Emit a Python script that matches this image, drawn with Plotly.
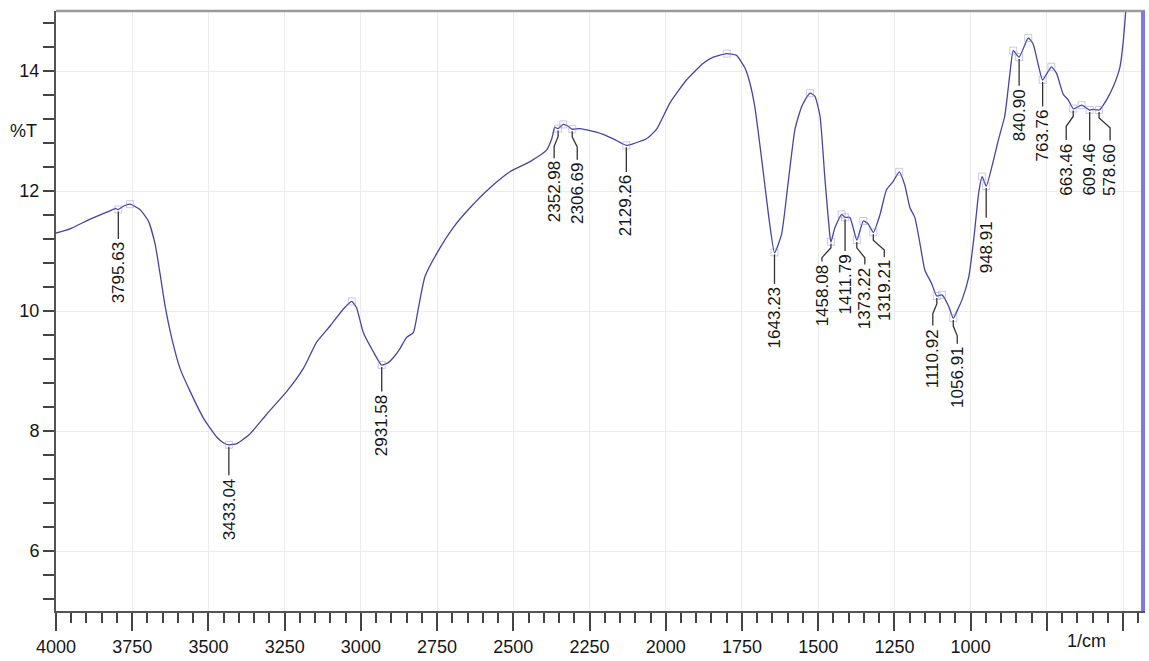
import numpy as np
import plotly.graph_objects as go

# FTIR spectrum: wavenumber (1/cm) vs transmittance (%T)
wavenumber = [
    4000, 3954, 3888, 3823, 3805, 3796, 3778, 3757, 3725, 3697, 3675, 3659, 3642,
    3620, 3593, 3560, 3517, 3473, 3450, 3433, 3407, 3364, 3309, 3243, 3189, 3145,
    3101, 3058, 3030, 3014, 2992, 2959, 2932, 2910, 2894, 2872, 2850, 2828, 2812,
    2790, 2751, 2697, 2642, 2577, 2511, 2445, 2391, 2374, 2364, 2353, 2336, 2320,
    2307, 2281, 2227, 2172, 2129, 2100, 2063, 2030, 1986, 1932, 1877, 1844, 1800,
    1768, 1740, 1724, 1708, 1691, 1675, 1659, 1643, 1620, 1598, 1576, 1554, 1527,
    1511, 1494, 1478, 1461, 1458, 1445, 1423, 1412, 1396, 1373, 1352, 1336, 1319,
    1297, 1276, 1254, 1234, 1216, 1199, 1183, 1166, 1150, 1128, 1111, 1094, 1072,
    1057, 1040, 1028, 1006, 989, 973, 962, 949, 929, 908, 888, 871, 860, 841, 811,
    795, 778, 764, 735, 718, 696, 680, 663, 636, 614, 609, 598, 578, 554, 532, 510,
    499, 491, 480,
]
transmittance = [
    11.30, 11.37, 11.53, 11.67, 11.71, 11.69, 11.75, 11.78, 11.69, 11.50, 11.12, 10.63, 10.08,
    9.54, 9.04, 8.66, 8.22, 7.90, 7.80, 7.77, 7.79, 7.95, 8.28, 8.66, 9.04, 9.48,
    9.75, 10.03, 10.16, 10.05, 9.64, 9.32, 9.10, 9.14, 9.22, 9.37, 9.56, 9.64, 10.03,
    10.57, 10.96, 11.39, 11.72, 12.05, 12.32, 12.49, 12.68, 12.87, 13.06, 13.04, 13.11, 13.08,
    13.03, 13.04, 12.98, 12.87, 12.76, 12.80, 12.87, 13.03, 13.47, 13.85, 14.13, 14.23, 14.29,
    14.26, 14.05, 13.80, 13.41, 12.76, 12.10, 11.45, 10.97, 11.28, 12.16, 13.03, 13.41, 13.63,
    13.58, 13.25, 12.21, 11.23, 11.15, 11.39, 11.61, 11.56, 11.56, 11.18, 11.50, 11.45, 11.31,
    11.61, 12.02, 12.16, 12.32, 12.10, 11.72, 11.56, 11.12, 10.68, 10.46, 10.25, 10.27, 10.08,
    9.88, 10.05, 10.19, 10.57, 11.23, 11.99, 12.24, 12.08, 12.43, 12.87, 13.25, 13.96, 14.34, 14.23, 14.55,
    14.45, 14.10, 13.85, 14.07, 13.96, 13.61, 13.52, 13.37, 13.43, 13.36, 13.35, 13.36, 13.35, 13.52, 13.74, 14.07,
    14.51, 15.00, 15.60,
]

# Labelled band positions (1/cm)
peak_wn = [3795.63, 3433.04, 2931.58, 2352.98, 2306.69, 2129.26, 1643.23, 1458.08,
           1411.79, 1373.22, 1319.21, 1110.92, 1056.91, 948.91, 840.90, 763.76,
           663.46, 609.46, 578.60]
peak_text = ["3795.63", "3433.04", "2931.58", "2352.98", "2306.69", "2129.26", "1643.23",
             "1458.08", "1411.79", "1373.22", "1319.21", "1110.92", "1056.91", "948.91",
             "840.90", "763.76", "663.46", "609.46", "578.60"]
# local maxima also flagged by the peak picker
max_wn = [3757, 3030, 2336, 1800, 1527, 1423, 1352, 1234, 1094, 962, 860, 811, 735, 636]

x_ticks = [4000, 3750, 3500, 3250, 3000, 2750, 2500, 2250, 2000, 1750, 1500, 1250, 1000, 750, 500]
x_tick_text = ["4000", "3750", "3500", "3250", "3000", "2750", "2500", "2250", "2000",
               "1750", "1500", "1250", "1000", "", ""]
y_ticks = [6, 8, 10, 12, 14]

# label leader geometry (pixels): sideways shift of the label and leader length
label_dx = [0, 0, 0, -4, 5, 0, 0, -9, 0, 8, 11, -4, 4, 0, 0, 0, -7, 0, 11]
leader_len = [30, 31, 27, 30, 31, 27, 32, 20, 34, 25, 25, 30, 26, 32, 29, 27, 32, 31, 31]

W, H = 1149, 661
ML, MR, MT, MB = 56, 4, 11, 41
X0, X1 = 4000, 428
Y0, Y1 = 5, 15
PW, PH = W - ML - MR, H - MT - MB
wpp = (X0 - X1) / PW
tpp = (Y1 - Y0) / PH

wn_arr = np.array(wavenumber, dtype=float)
t_arr = np.array(transmittance, dtype=float)
peak_t = np.interp(peak_wn, wn_arr[::-1], t_arr[::-1])
max_t = np.interp(max_wn, wn_arr[::-1], t_arr[::-1])

LINE = "#4545a6"
TXT = "#161616"
FONT = "Liberation Sans, Arial"

fig = go.Figure()
fig.add_trace(go.Scatter(x=wavenumber, y=transmittance, mode="lines",
                         line=dict(color=LINE, width=1.3, shape="spline", smoothing=0.5),
                         hoverinfo="skip"))

# faint peak-pick boxes
fig.add_trace(go.Scatter(x=list(peak_wn) + max_wn, y=list(peak_t) + list(max_t), mode="markers",
                         marker=dict(symbol="square-open", size=7,
                                     color="rgba(150,150,215,0.5)", line=dict(width=1)),
                         hoverinfo="skip"))

# leader lines
lx, ly = [], []
for wn, t, dx, L in zip(peak_wn, peak_t, label_dx, leader_len):
    if dx == 0:
        pts = [(0, 2), (0, L)]
    else:
        b0 = 6 if L < 24 else 8
        pts = [(0, 2), (0, b0), (dx, b0 + 10), (dx, L)]
    for px, py in pts:
        lx.append(wn - px * wpp)
        ly.append(t - py * tpp)
    lx.append(None)
    ly.append(None)
fig.add_trace(go.Scatter(x=lx, y=ly, mode="lines", line=dict(color="#333333", width=1.3),
                         hoverinfo="skip"))

for wn, t, dx, L, txt in zip(peak_wn, peak_t, label_dx, leader_len, peak_text):
    fig.add_annotation(x=wn - dx * wpp, y=t, text=txt, textangle=-90, showarrow=False,
                       xanchor="center", yanchor="top", yshift=-(L + 1),
                       font=dict(family=FONT, size=17, color=TXT))

fig.add_annotation(x=620, y=-30 / PH, yref="paper", text="1/cm", showarrow=False,
                   xanchor="center", yanchor="middle",
                   font=dict(family=FONT, size=18, color=TXT))
fig.add_annotation(x=-33 / PW, xref="paper", y=13.0, text="%T", showarrow=False,
                   xanchor="center", yanchor="middle",
                   font=dict(family=FONT, size=18, color=TXT))

# top frame and right-hand cursor bar
fig.add_shape(type="line", xref="paper", yref="paper", x0=0, x1=1, y0=1, y1=1,
              line=dict(color="#9a9a9a", width=2.5))
fig.add_shape(type="line", xref="paper", yref="paper", x0=1 - 2 / PW, x1=1 - 2 / PW, y0=0, y1=1,
              line=dict(color="#7b7be0", width=4))

fig.update_layout(
    width=W, height=H, margin=dict(l=ML, r=MR, t=MT, b=MB),
    paper_bgcolor="white", plot_bgcolor="white", showlegend=False,
    font=dict(family=FONT, size=18, color=TXT),
)
fig.update_xaxes(
    range=[X0, X1], tickmode="array", tickvals=x_ticks, ticktext=x_tick_text,
    ticks="outside", ticklen=18, tickwidth=1.5, tickcolor="#444444",
    showline=True, linecolor="#555555", linewidth=2,
    showgrid=True, gridcolor="#ececec", gridwidth=1, zeroline=False,
    tickfont=dict(size=18, color=TXT),
    minor=dict(dtick=50, tick0=0, ticks="outside", ticklen=10, tickwidth=1.5,
               tickcolor="#444444", showgrid=False),
)
fig.update_yaxes(
    range=[Y0, Y1], tickmode="array", tickvals=y_ticks,
    ticks="outside", ticklen=11, tickwidth=1.5, tickcolor="#444444",
    showline=True, linecolor="#555555", linewidth=2,
    showgrid=True, gridcolor="#ececec", gridwidth=1, zeroline=False,
    tickfont=dict(size=18, color=TXT),
    minor=dict(dtick=0.4, tick0=0, ticks="outside", ticklen=11, tickwidth=1.5,
               tickcolor="#444444", showgrid=False),
)

fig.write_html("out.html")
